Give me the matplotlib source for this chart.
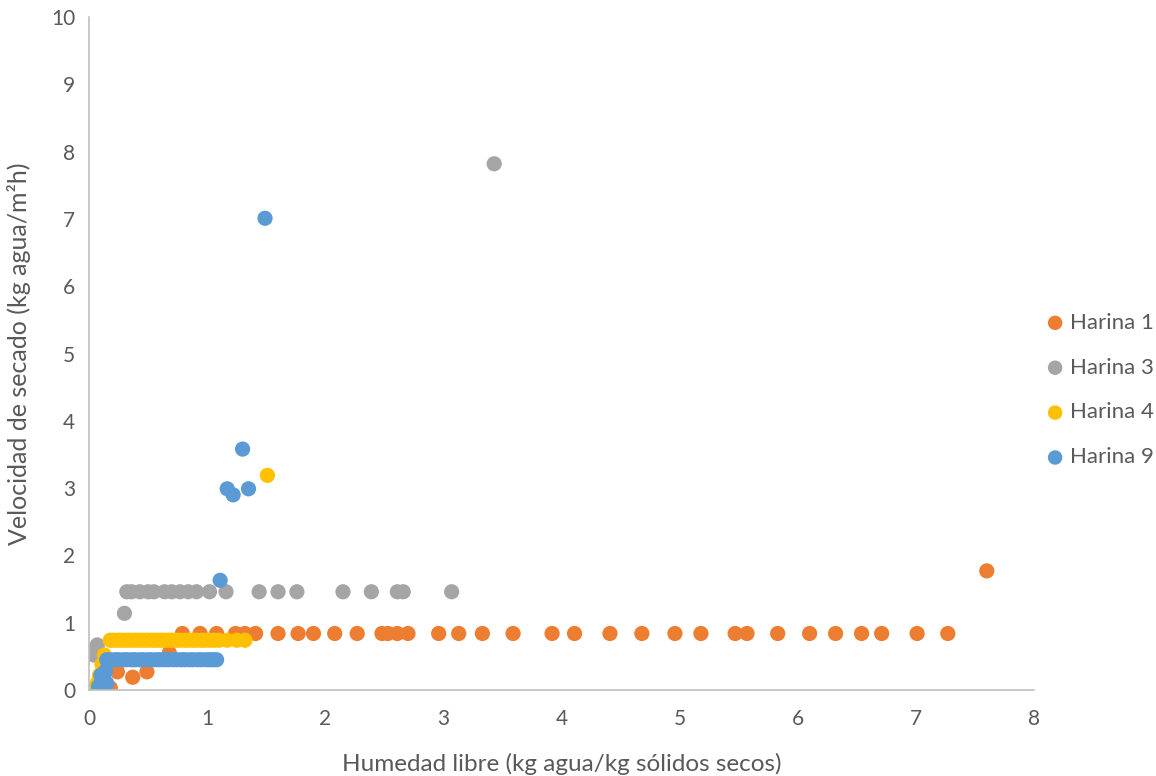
import matplotlib
matplotlib.use("Agg")
import matplotlib.pyplot as plt

# Free moisture (kg water / kg dry solids) vs drying rate (kg water / m2 h)
h1_x = [0.12, 0.15, 0.18, 0.24, 0.37, 0.49, 0.68,
        0.79, 0.94, 1.08, 1.24, 1.32, 1.41, 1.60, 1.77, 1.90, 2.08, 2.27,
        2.48, 2.53, 2.61, 2.70, 2.96, 3.13, 3.33, 3.59, 3.92, 4.11, 4.41,
        4.68, 4.96, 5.18, 5.47, 5.57, 5.83, 6.10, 6.32, 6.54, 6.71, 7.01,
        7.27, 7.60]
h1_y = [0.00, 0.05, 0.03, 0.27, 0.19, 0.27, 0.55,
        0.84, 0.84, 0.84, 0.84, 0.84, 0.84, 0.84, 0.84, 0.84, 0.84, 0.84,
        0.84, 0.84, 0.84, 0.84, 0.84, 0.84, 0.84, 0.84, 0.84, 0.84, 0.84,
        0.84, 0.84, 0.84, 0.84, 0.84, 0.84, 0.84, 0.84, 0.84, 0.84, 0.84,
        0.84, 1.77]

h3_x = [0.04, 0.05, 0.07, 0.09, 0.11, 0.30,
        0.32, 0.36, 0.43, 0.50, 0.55, 0.64, 0.70, 0.77, 0.84, 0.91, 1.02,
        1.16, 1.44, 1.60, 1.76, 2.15, 2.39, 2.61, 2.66, 3.07, 3.43]
h3_y = [0.52, 0.60, 0.67, 0.55, 0.47, 1.14,
        1.46, 1.46, 1.46, 1.46, 1.46, 1.46, 1.46, 1.46, 1.46, 1.46, 1.46,
        1.46, 1.46, 1.46, 1.46, 1.46, 1.46, 1.46, 1.46, 1.46, 7.82]

h4_x = [0.05, 0.07, 0.09, 0.11, 0.13,
        0.18, 0.21, 0.25, 0.28, 0.32, 0.35, 0.39, 0.42, 0.46, 0.49, 0.53,
        0.56, 0.60, 0.63, 0.67, 0.70, 0.74, 0.77, 0.81, 0.84, 0.88, 0.91,
        0.95, 0.98, 1.02, 1.06, 1.10, 1.17, 1.25, 1.32, 1.51]
h4_y = [0.02, 0.10, 0.22, 0.38, 0.52,
        0.74, 0.74, 0.74, 0.74, 0.74, 0.74, 0.74, 0.74, 0.74, 0.74, 0.74,
        0.74, 0.74, 0.74, 0.74, 0.74, 0.74, 0.74, 0.74, 0.74, 0.74, 0.74,
        0.74, 0.74, 0.74, 0.74, 0.74, 0.74, 0.74, 0.74, 3.19]

h9_x = [0.08, 0.10, 0.11, 0.12, 0.13, 0.14, 0.10, 0.15,
        0.15, 0.18, 0.22, 0.25, 0.29, 0.32, 0.36, 0.39, 0.43, 0.46, 0.50,
        0.53, 0.57, 0.60, 0.64, 0.67, 0.71, 0.74, 0.78, 0.81, 0.85, 0.88,
        0.92, 0.95, 0.99, 1.02, 1.05, 1.08,
        1.11, 1.17, 1.22, 1.30, 1.35, 1.49]
h9_y = [0.05, 0.10, 0.00, 0.18, 0.02, 0.28, 0.22, 0.10,
        0.45, 0.45, 0.45, 0.45, 0.45, 0.45, 0.45, 0.45, 0.45, 0.45, 0.45,
        0.45, 0.45, 0.45, 0.45, 0.45, 0.45, 0.45, 0.45, 0.45, 0.45, 0.45,
        0.45, 0.45, 0.45, 0.45, 0.45, 0.45,
        1.63, 2.99, 2.90, 3.58, 2.99, 7.01]

series = [
    ("Harina 1", h1_x, h1_y, "#ED7D31"),
    ("Harina 3", h3_x, h3_y, "#A5A5A5"),
    ("Harina 4", h4_x, h4_y, "#FFC000"),
    ("Harina 9", h9_x, h9_y, "#5B9BD5"),
]

plt.rcParams["font.family"] = ["Lato", "DejaVu Sans"]
text_col = "#595959"

fig = plt.figure(figsize=(11.56, 7.76), dpi=100)
ax = fig.add_axes([0.077, 0.1108, 0.8175, 0.8672])

for name, xs, ys, col in series:
    ax.scatter(xs, ys, s=120, color=col, label=name, edgecolors="none")

ax.set_xlim(0, 8)
ax.set_ylim(0, 10)
ax.set_xticks(range(0, 9))
ax.set_yticks(range(0, 11))

for side in ("top", "right"):
    ax.spines[side].set_visible(False)
for side in ("left", "bottom"):
    ax.spines[side].set_color("#BFBFBF")
    ax.spines[side].set_linewidth(1.2)

ax.tick_params(length=0, labelsize=15, colors=text_col)
ax.tick_params(axis="x", pad=14)
ax.tick_params(axis="y", pad=10)
ax.set_xlabel("Humedad libre (kg agua/kg sólidos secos)", fontsize=17.5,
              color=text_col, labelpad=17)
ax.set_ylabel("Velocidad de secado (kg agua/m²h)", fontsize=18,
              color=text_col, labelpad=14)

leg = fig.legend(loc="center left",
                 bbox_to_anchor=(1044 / 1156, 1 - 390 / 776),
                 frameon=False, fontsize=16, handlelength=1.0,
                 handletextpad=0.15, labelspacing=1.12, borderaxespad=0,
                 borderpad=0, markerscale=0.95)
for t in leg.get_texts():
    t.set_color(text_col)

fig.savefig("out.png", dpi=100)
